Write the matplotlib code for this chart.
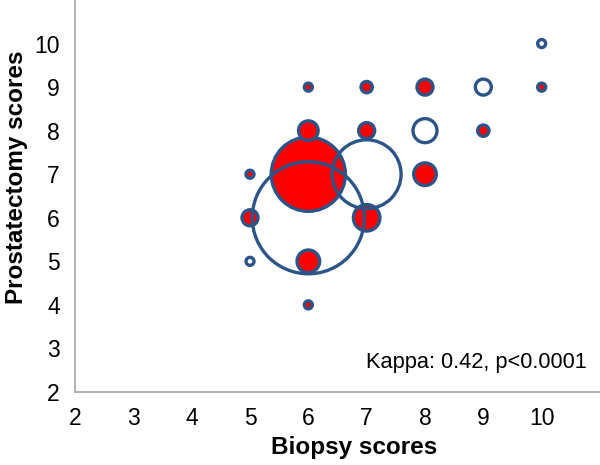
import matplotlib
matplotlib.use("Agg")
import matplotlib.pyplot as plt

plt.rcParams['font.family'] = ['Liberation Sans', 'DejaVu Sans']

# concordant (diagonal) cases, drawn as open bubbles
same_biopsy = [5, 6, 7, 8, 9, 10]
same_prost = [5, 6, 7, 8, 9, 10]
same_n = [1, 196, 74, 9, 4, 1]

# discordant cases, red bubbles
diff_biopsy = [5, 5, 6, 6, 6, 6, 6, 7, 7, 7, 8, 8, 9, 10]
diff_prost = [6, 7, 4, 5, 7, 8, 9, 6, 8, 9, 7, 9, 8, 9]
diff_n = [4, 1, 1, 8, 86, 6, 1, 11, 4, 2, 8, 4, 2, 1]

edge = '#2B5488'
k = 33.2  # points^2 per case

fig = plt.figure(figsize=(6, 4.65), dpi=100)
ax = fig.add_axes([0.125, 0.157, 0.875, 0.843])

ax.scatter(diff_biopsy, diff_prost, s=[v * k for v in diff_n],
           facecolor='#FF0000', edgecolor=edge, linewidth=2.4, zorder=2)
ax.scatter(same_biopsy, same_prost, s=[v * k for v in same_n],
           facecolor='none', edgecolor=edge, linewidth=2.4, zorder=3)

ax.set_xlim(2, 11)
ax.set_ylim(2, 11)
ax.set_xticks(range(2, 11))
ax.set_yticks(range(2, 11))
ax.tick_params(length=0, labelsize=16.5)
ax.tick_params(axis='x', pad=11)
ax.tick_params(axis='y', pad=11)

for s in ['top', 'right']:
    ax.spines[s].set_visible(False)
for s in ['left', 'bottom']:
    ax.spines[s].set_color('#A6A6A6')
    ax.spines[s].set_linewidth(1.2)

ax.set_xlabel('Biopsy scores', fontsize=17.5, fontweight='bold')
ax.set_ylabel('Prostatectomy scores', fontsize=17.5, fontweight='bold')
ax.xaxis.set_label_coords(0.531, -0.113)
ax.yaxis.set_label_coords(-0.09, 0.547)

ax.text(0.975, 0.075, 'Kappa: 0.42, p<0.0001', transform=ax.transAxes,
        ha='right', va='center', fontsize=15.7)

fig.savefig('out.png', dpi=100)
